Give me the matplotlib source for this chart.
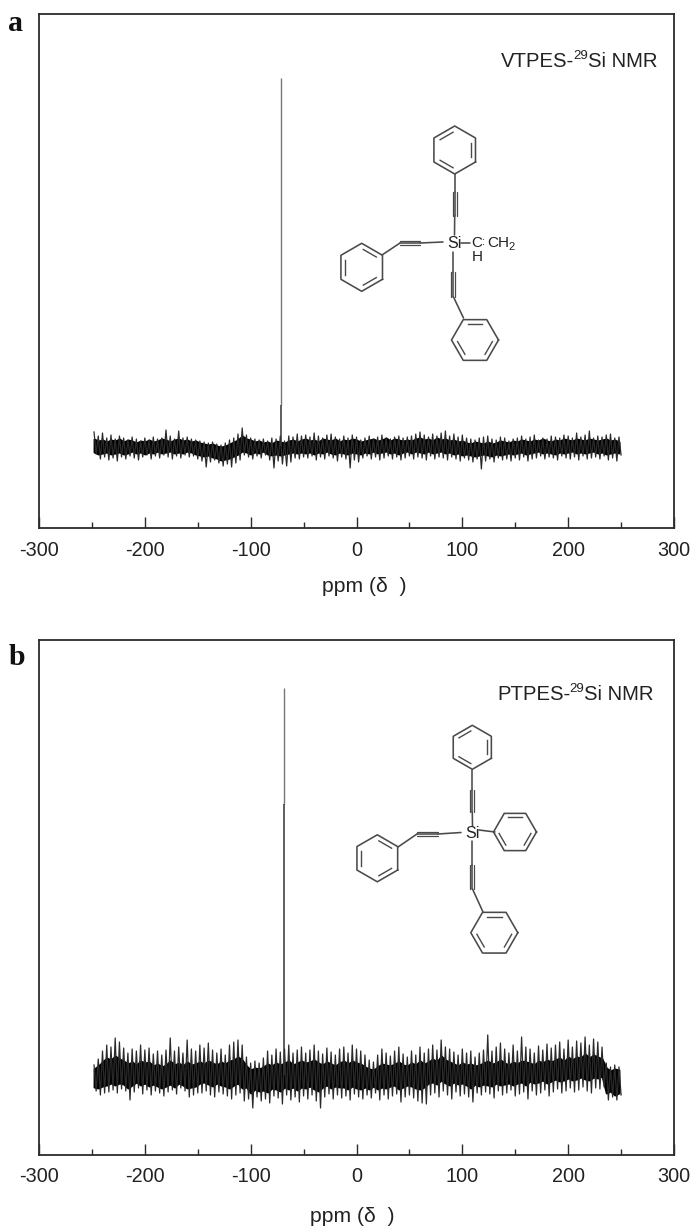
import matplotlib
matplotlib.use('Agg')
import matplotlib.pyplot as plt
import numpy as np

plt.rcParams['font.family'] = ['Liberation Sans', 'DejaVu Sans']

W, H = 694, 1228
INK = '#2b2b2b'

# y values = pixels above the baseline of each spectrum
# one value every 4 ppm from -248 to 248
hi_a = [14,10,13,8,11,7,10,8,6,9,7,5,8,6,9,7,8,16,10,7,15,8,9,7,6,
        5,4,3,4,2,1,3,6,8,12,18,11,8,7,6,7,5,8,7,10,5,10,9,12,10,
        11,9,13,10,8,11,12,9,7,10,8,11,9,6,8,10,7,9,11,8,7,9,10,8,9,
        10,12,14,11,9,12,10,13,15,10,12,9,11,8,7,6,8,9,10,7,6,9,8,5,7,
        8,10,7,9,11,6,8,7,10,9,8,11,10,8,13,9,11,15,8,10,9,11,12,8,9]
lo_a = [-8,-13,-11,-14,-12,-15,-11,-13,-10,-12,-14,-11,-9,-13,-10,-12,-9,-11,-13,-10,-12,-9,-11,-10,-13,
        -15,-21,-16,-14,-17,-20,-18,-21,-17,-14,-9,-11,-13,-10,-12,-9,-14,-22,-15,-18,-20,-16,-12,-13,-11,
        -12,-10,-14,-11,-13,-10,-12,-15,-11,-13,-22,-14,-16,-12,-10,-13,-11,-14,-12,-10,-13,-11,-14,-12,-10,
        -13,-11,-12,-14,-10,-13,-11,-12,-14,-11,-13,-15,-12,-14,-16,-13,-23,-15,-13,-16,-12,-14,-13,-15,-12,
        -14,-11,-15,-13,-12,-10,-13,-11,-12,-14,-10,-12,-13,-11,-14,-10,-13,-12,-11,-13,-10,-14,-12,-15,-9]
core_top_a = [7,5,6,4,6,5,7,4,6,5,3,5,4,6,4,5,7,6,4,6,7,5,6,4,5,
              3,2,1,2,0,-1,0,2,4,6,10,7,6,4,5,3,4,2,5,4,3,5,6,4,6,
              7,5,6,4,7,6,5,7,4,6,5,7,6,4,5,6,7,5,6,8,5,7,6,5,6,
              5,7,8,6,7,5,8,6,7,5,6,4,5,3,2,4,3,2,4,2,3,5,4,3,5,
              4,6,5,4,6,5,7,5,4,6,5,7,6,5,7,6,5,7,6,5,6,7,5,6,4]
core_bot_a = [-6,-8,-7,-6,-8,-7,-6,-8,-7,-5,-7,-6,-8,-6,-7,-5,-7,-6,-5,-7,-6,-7,-5,-6,-8,
              -9,-10,-9,-11,-12,-14,-13,-12,-10,-8,-5,-6,-8,-6,-7,-5,-8,-9,-8,-9,-8,-7,-6,-7,-6,
              -7,-6,-8,-6,-7,-5,-7,-8,-6,-7,-8,-6,-7,-8,-6,-7,-5,-7,-6,-5,-7,-6,-8,-6,-5,
              -7,-5,-6,-7,-5,-7,-6,-5,-7,-6,-8,-7,-9,-8,-9,-10,-9,-8,-9,-10,-8,-9,-8,-7,-8,
              -7,-6,-8,-7,-6,-5,-7,-6,-7,-8,-6,-7,-6,-5,-7,-6,-7,-6,-5,-7,-6,-8,-7,-6,-7]
peak_ppm_a = -71.4
peak_top_a = 368
peak_mid_a = 41

hi_b = [10,16,24,30,28,37,33,27,22,26,24,30,25,27,21,24,20,25,37,24,28,22,35,26,24,
        30,27,32,25,22,26,20,30,33,35,30,18,12,14,12,17,24,20,26,23,26,30,22,25,28,
        22,25,30,24,21,27,23,20,26,28,22,30,26,24,20,15,13,20,26,22,19,24,28,21,18,
        24,20,28,22,26,30,25,35,28,26,23,20,26,22,24,18,22,25,40,24,28,32,26,22,30,
        24,38,28,26,22,29,25,31,27,30,33,26,35,28,34,32,38,30,36,33,28,12,8,10,8]
lo_b = [-16,-20,-18,-17,-15,-18,-14,-16,-25,-17,-13,-19,-15,-20,-16,-18,-21,-17,-15,-19,-13,-16,-22,-20,-18,
        -18,-16,-20,-22,-17,-19,-21,-24,-20,-18,-26,-24,-33,-22,-26,-24,-28,-21,-23,-29,-20,-25,-22,-27,-21,
        -24,-20,-26,-33,-22,-19,-24,-20,-23,-21,-25,-19,-22,-24,-20,-23,-18,-25,-20,-24,-21,-19,-27,-22,-20,
        -23,-26,-28,-29,-20,-18,-22,-16,-20,-24,-17,-21,-19,-22,-27,-18,-20,-17,-19,-23,-16,-20,-18,-15,-21,
        -19,-17,-24,-16,-20,-18,-15,-21,-17,-14,-18,-16,-13,-17,-15,-12,-16,-18,-13,-14,-12,-25,-22,-25,-20]
core_top_b = [6,9,13,17,15,19,16,14,11,13,10,14,12,13,9,11,8,10,14,10,12,9,13,10,11,
              13,11,14,12,10,13,11,14,15,18,15,9,5,7,6,8,11,9,12,10,12,14,10,12,14,
              12,13,15,12,10,13,11,9,12,14,11,14,12,11,8,6,5,8,11,10,9,11,13,10,9,
              12,10,14,11,13,16,13,19,15,13,11,9,12,10,11,9,10,12,14,11,12,15,12,10,13,
              11,14,13,12,10,14,12,15,13,15,17,13,18,15,18,17,21,17,20,18,16,7,4,6,5]
core_bot_b = [-12,-13,-11,-10,-8,-10,-8,-9,-13,-10,-7,-10,-8,-11,-9,-11,-13,-11,-9,-12,-8,-10,-13,-12,-11,
              -8,-7,-9,-11,-8,-10,-11,-13,-10,-8,-13,-12,-18,-14,-16,-15,-17,-13,-14,-16,-12,-14,-12,-15,-12,
              -13,-11,-14,-16,-12,-10,-13,-11,-12,-12,-14,-11,-13,-14,-12,-14,-11,-14,-12,-13,-11,-10,-14,-12,-10,
              -11,-13,-14,-12,-8,-7,-9,-5,-8,-10,-7,-9,-8,-10,-13,-9,-11,-9,-10,-11,-8,-10,-9,-8,-10,
              -8,-7,-10,-6,-8,-7,-5,-8,-6,-4,-6,-5,-3,-5,-4,-2,-4,-5,-2,-3,-1,-18,-16,-20,-18]
peak_ppm_b = -68.5
peak_top_b = 387
peak_mid_b = 271

major_ticks = [-300,-200,-100,0,100,200,300]
minor_ticks = [-250,-150,-50,50,150,250]
tick_labels = ['-300','-200','-100','0','100','200','300']

fig = plt.figure(figsize=(W/100, H/100), dpi=100, facecolor='white')


def panel(top, bottom, ylim, hi, lo, core_top, core_bot, peak, ptop, pmid):
    ax = fig.add_axes([39/W, 1-bottom/H, (674-39)/W, (bottom-top)/H])
    ax.set_xlim(-300, 300)
    ax.set_ylim(*ylim)
    ppm = np.linspace(-248, 248, len(hi))
    # the noise as one line going up and down between the read levels
    zx = np.column_stack([ppm, ppm+2]).ravel()
    zy = np.column_stack([hi, lo]).ravel()
    ax.plot(zx, zy, color='#2a2a2a', lw=0.9)
    ax.fill_between(ppm, core_bot, core_top, color='black', lw=1.4)
    ax.vlines(peak, pmid, ptop, color='#777777', lw=1.0)
    ax.vlines(peak, 0, pmid, color='#333333', lw=1.1)
    ax.set_yticks([])
    ax.set_xticks(major_ticks)
    ax.set_xticklabels(tick_labels, fontsize=14.3, color='#222222')
    ax.set_xticks(minor_ticks, minor=True)
    ax.tick_params(axis='x', which='major', direction='in', length=8, width=1.0, color=INK, pad=9)
    ax.tick_params(axis='x', which='minor', direction='in', length=4, width=1.0, color=INK)
    for s in ax.spines.values():
        s.set_linewidth(1.3)
        s.set_color(INK)
    return ax


panel(14, 528, (-82, 432), hi_a, lo_a, core_top_a, core_bot_a, peak_ppm_a, peak_top_a, peak_mid_a)
panel(640, 1155, (-80, 435), hi_b, lo_b, core_top_b, core_bot_b, peak_ppm_b, peak_top_b, peak_mid_b)

# overlay in image pixels for the labels and the drawn molecules
ov = fig.add_axes([0, 0, 1, 1], facecolor='none')
ov.set_xlim(0, W)
ov.set_ylim(H, 0)
ov.axis('off')
BOND = '#4a4a4a'
TXT = '#222222'


def seg(x0, y0, x1, y1, lw=1.15):
    ov.plot([x0, x1], [y0, y1], color=BOND, lw=lw, solid_capstyle='round')


def ring(cx, cy, r, start, doubles):
    # start = angle of first vertex in degrees, doubles = sides with an inner line
    ang = np.radians(start + 60*np.arange(7))
    xs = cx + r*np.cos(ang)
    ys = cy + r*np.sin(ang)
    ov.plot(xs, ys, color=BOND, lw=1.15)
    for i in doubles:
        ax0, ay0 = cx + 0.78*(xs[i]-cx), cy + 0.78*(ys[i]-cy)
        ax1, ay1 = cx + 0.78*(xs[i+1]-cx), cy + 0.78*(ys[i+1]-cy)
        mx, my = (ax0+ax1)/2, (ay0+ay1)/2
        ov.plot([mx+(ax0-mx)*0.8, mx+(ax1-mx)*0.8], [my+(ay0-my)*0.8, my+(ay1-my)*0.8], color=BOND, lw=1.0)


def triple(x0, y0, x1, y1, gap=2.0):
    seg(x0, y0, x1, y1)
    if x0 == x1:
        seg(x0-gap, y0, x1-gap, y1, 0.9)
        seg(x0+gap, y0, x1+gap, y1, 0.9)
    else:
        seg(x0, y0-gap, x1, y1-gap, 0.9)
        seg(x0, y0+gap, x1, y1+gap, 0.9)


# molecule a
ring(454.7, 150, 24, 30, [1, 3, 5])
seg(454.7, 174, 454.7, 192)
triple(454.7, 192, 454.7, 216)
seg(454.7, 216, 454.5, 235)
ov.text(454, 243, 'Si', fontsize=11.5, ha='center', va='center', color=TXT)
seg(443, 242, 420, 243)
triple(420, 243, 400, 243)
seg(400, 243, 382, 255)
ring(361.7, 267.3, 24, 30, [0, 2, 4])
seg(453.5, 252, 453.5, 272)
triple(453.5, 272, 453.5, 297)
seg(453.5, 297, 463.5, 318)
ring(475, 340, 23.5, 0, [0, 2, 4])
seg(461, 243, 470, 243)
ov.text(477, 243, 'C', fontsize=11, ha='center', va='center', color=TXT)
ov.text(484, 242, ':', fontsize=8, ha='center', va='center', color=TXT)
ov.text(487, 243, 'CH', fontsize=11, ha='left', va='center', color=TXT)
ov.text(508.5, 247, '2', fontsize=8, ha='left', va='center', color=TXT)
ov.text(477, 257, 'H', fontsize=11, ha='center', va='center', color=TXT)

# molecule b
ring(472.3, 747.3, 22, 30, [1, 3, 5])
seg(472.3, 770, 472.3, 790)
triple(472.3, 790, 472.3, 812)
seg(472.3, 812, 472.5, 826)
ov.text(472.5, 833, 'Si', fontsize=11.5, ha='center', va='center', color=TXT)
seg(461, 832.5, 438, 834)
triple(438, 834, 417, 834)
seg(417, 834, 398, 847)
ring(377.3, 858.3, 23.5, 30, [0, 2, 4])
seg(479, 830, 495, 832)
ring(515, 832, 21.5, 0, [0, 2, 4])
seg(472.5, 841, 472.5, 865)
triple(472.5, 865, 472.5, 889)
seg(472.5, 889, 483, 912)
ring(494.3, 932.7, 23.5, 0, [0, 2, 4])


def nmr_title(x, y, name):
    t = ov.text(x, y, name, fontsize=14.6, ha='left', va='baseline', color=TXT)
    fig.canvas.draw()
    x1 = x + t.get_window_extent().width
    s = ov.text(x1-1, y-8, '29', fontsize=9.5, ha='left', va='baseline', color=TXT)
    x2 = x1 - 1 + s.get_window_extent().width
    ov.text(x2, y, 'Si NMR', fontsize=14.6, ha='left', va='baseline', color=TXT)


nmr_title(501, 67, 'VTPES-')
nmr_title(497, 700, 'PTPES-')

ov.text(364.5, 586, 'ppm (δ  )', fontsize=15.2, ha='center', va='center', color=TXT)
ov.text(352, 1216, 'ppm (δ  )', fontsize=15.2, ha='center', va='center', color=TXT)

ov.text(8, 31, 'a', fontsize=21.5, fontweight='bold', family='Liberation Serif', va='baseline', color='#111111')
ov.text(9, 665, 'b', fontsize=21.5, fontweight='bold', family='Liberation Serif', va='baseline', color='#111111')

fig.savefig('out.png', dpi=100, facecolor='white')
